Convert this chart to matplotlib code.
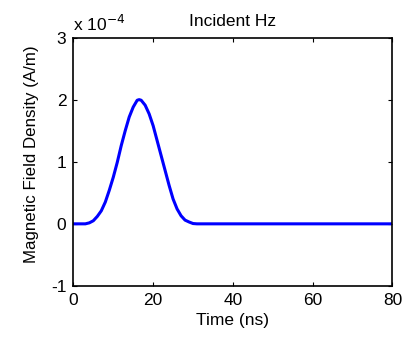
import numpy as np
import matplotlib.pyplot as plt

plt.rcParams['font.family'] = ['Liberation Sans', 'DejaVu Sans']
plt.rcParams['axes.unicode_minus'] = False

# time in ns, field in A/m
t = [0, 1, 2, 3, 4, 5, 6, 7, 8, 9, 10, 11, 12, 13, 14, 15, 16, 16.5, 17,
     18, 19, 20, 21, 22, 23, 24, 25, 26, 27, 28, 29, 30, 31, 40, 50, 60, 70, 80]
hz = [0, 0, 0, 0, 0.016e-4, 0.05e-4, 0.12e-4, 0.21e-4, 0.35e-4, 0.54e-4,
      0.75e-4, 0.99e-4, 1.26e-4, 1.50e-4, 1.72e-4, 1.88e-4, 1.99e-4, 2.0e-4,
      1.99e-4, 1.91e-4, 1.77e-4, 1.58e-4, 1.34e-4, 1.10e-4, 0.86e-4, 0.62e-4,
      0.40e-4, 0.24e-4, 0.13e-4, 0.06e-4, 0.03e-4, 0.005e-4, 0, 0, 0, 0, 0, 0]

scale = 1e-4
xticks = [0, 20, 40, 60, 80]
yticks = [-1, 0, 1, 2, 3]

fig = plt.figure(figsize=(4.17, 3.38), dpi=100)
ax = fig.add_axes([0.176, 0.154, 0.765, 0.735])
ax.plot(t, np.array(hz) / scale, color='#0000ff', linewidth=2.2)

ax.set_xlim(0, 80)
ax.set_ylim(-1, 3)
ax.set_xticks(xticks)
ax.set_yticks(yticks)
ax.tick_params(direction='in', top=True, right=True, length=3, width=0.8,
               labelsize=12.5, pad=5)
for s in ax.spines.values():
    s.set_linewidth(1.2)

ax.set_title('Incident Hz', fontsize=12.5, pad=8)
ax.set_xlabel('Time (ns)', fontsize=12.5, labelpad=4)
ax.set_ylabel('Magnetic Field Density (A/m)', fontsize=12.2)
ax.yaxis.set_label_coords(-0.108, 0.53)
ax.text(0.0, 1.015, 'x 10$^{-4}$', transform=ax.transAxes, fontsize=12.5,
        ha='left', va='bottom')

fig.savefig('out.png', dpi=100)
